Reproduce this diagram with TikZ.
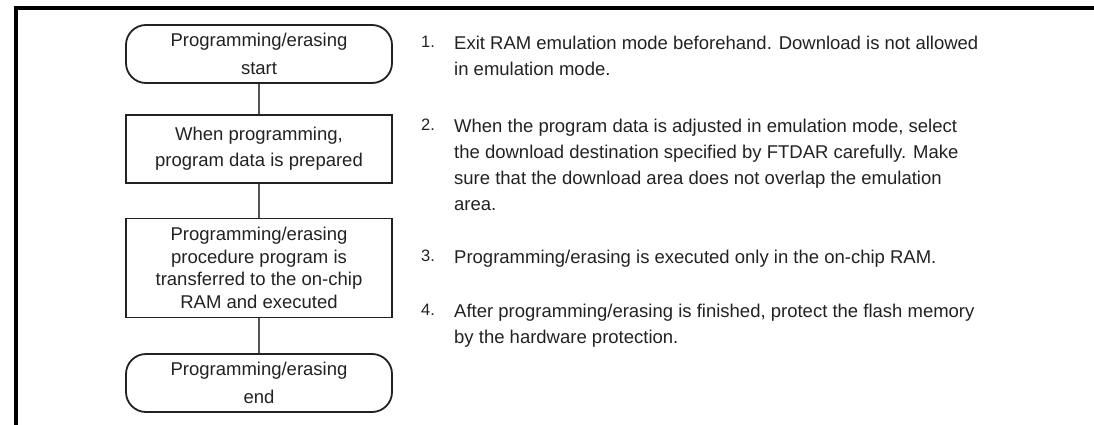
\documentclass[tikz,border=0pt]{standalone}
\usepackage{fontspec}
\setmainfont{Liberation Sans}
\definecolor{txt}{HTML}{222222}
\definecolor{connc}{HTML}{555555}
\tikzset{
  term/.style={draw=txt, line width=1.8pt, rounded corners=20pt, minimum width=266pt, minimum height=58pt, align=center, inner sep=0pt, font=\fontsize{18.5}{28}\selectfont, text=txt},
  proc/.style={draw=txt, line width=1.8pt, minimum width=266pt, align=center, inner sep=0pt, text=txt},
  conn/.style={draw=connc, line width=1.2pt},
  frameline/.style={line width=3.2pt, draw=black},
  itemtxt/.style={anchor=base west, inner sep=0pt, font=\fontsize{18.5}{26}\selectfont, text=txt},
  itemnum/.style={anchor=base west, inner sep=0pt, font=\fontsize{16.5}{18}\selectfont, text=txt}
}
\begin{document}
\begin{tikzpicture}[x=1pt,y=-1pt]
\useasboundingbox (0,0) rectangle (1094,425);
% frame
\coordinate (fa) at (16,426);
\coordinate (fb) at (16,8);
\coordinate (fc) at (1095,8);
\draw[frameline] (fa) -- (fb) -- (fc);
% flowchart
\node[term] (start) at (259,54) {Programming/erasing\\start};
\node[proc, minimum height=68pt, font=\fontsize{18.5}{26}\selectfont] (prep) at (259,149) {When programming,\\program data is prepared};
\node[proc, minimum height=99pt, font=\fontsize{18.5}{22.5}\selectfont] (xfer) at (259,268) {Programming/erasing\\procedure program is\\transferred to the on-chip\\RAM and executed};
\node[term] (stop) at (259,383) {Programming/erasing\\end};
\draw[conn] (start) -- (prep);
\draw[conn] (prep) -- (xfer);
\draw[conn] (xfer) -- (stop);
% notes
\node[itemnum] (n1) at (421,48) {1.};
\node[itemnum] (n2) at (421,130) {2.};
\node[itemnum] (n3) at (421,261) {3.};
\node[itemnum] (n4) at (421,315) {4.};
\node[itemtxt] (l1) at (454,50) {Exit RAM emulation mode beforehand. Download is not allowed};
\node[itemtxt] (l2) at (454,76) {in emulation mode.};
\node[itemtxt] (l3) at (454,132) {When the program data is adjusted in emulation mode, select};
\node[itemtxt] (l4) at (454,158) {the download destination specified by FTDAR carefully. Make};
\node[itemtxt] (l5) at (454,184) {sure that the download area does not overlap the emulation};
\node[itemtxt] (l6) at (454,210) {area.};
\node[itemtxt] (l7) at (454,263) {Programming/erasing is executed only in the on-chip RAM.};
\node[itemtxt] (l8) at (454,317) {After programming/erasing is finished, protect the flash memory};
\node[itemtxt] (l9) at (454,343) {by the hardware protection.};
\end{tikzpicture}
\end{document}
